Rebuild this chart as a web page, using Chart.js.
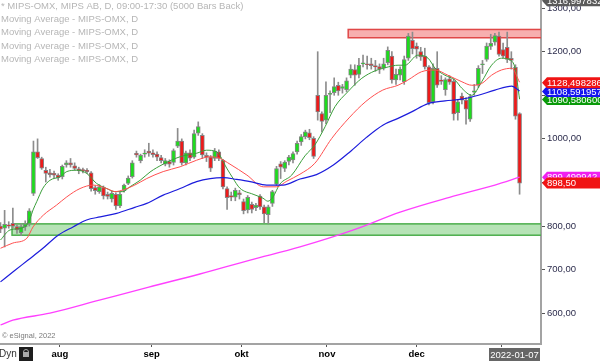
<!DOCTYPE html>
<html>
<head>
<meta charset="utf-8">
<script src="https://cdn.jsdelivr.net/npm/chart.js@4.4.1/dist/chart.umd.min.js"></script>
<style>
  html, body { margin: 0; padding: 0; background: #fff; }
  #wrap { width: 600px; height: 361px; position: relative; }
</style>
</head>
<body>
<div id="wrap"><canvas id="chart" width="600" height="361"></canvas></div>
<script>
// daily bars, index 0 = mid July 2021, last = 2022-01-07
const opens = [800,795,803,806,799,785,798,805,875,970,955,928,922,921,917,913,940,945,938,931,928,928,922,888,879,888,873,862,873,846,882,898,913,
  967,950,965,972,968,965,957,942,948,946,983,995,945,968,958,1013,1008,962,958,955,970,951,886,870,866,876,856,837,850,842,869,844,826,852,896,
  943,932,948,952,970,993,1005,1014,1001,1100,1058,1043,1102,1106,1123,1116,1113,1146,1159,1148,1172,1172,1172,1168,1166,1162,1175,1190,1135,
  1146,1131,1185,1226,1213,1200,1190,1165,1085,1162,1135,1113,1138,1132,1060,1098,1089,1045,1107,1123,1170,1182,1212,1222,1236,1205,1210,1185,1164,1058];
const highs = [808,836,810,841,803,805,812,840,995,1000,958,935,930,926,920,940,950,955,945,935,933,932,925,892,895,892,878,880,876,878,896,915,950,
  972,965,975,990,975,970,962,955,952,977,1024,1000,972,975,1020,1039,1012,968,962,978,975,953,890,878,887,882,862,870,855,852,872,848,848,882,937,
  948,950,962,970,995,1010,1020,1022,1005,1200,1062,1131,1110,1140,1130,1125,1140,1170,1170,1185,1192,1190,1185,1180,1172,1185,1211,1200,1160,
  1165,1190,1242,1245,1220,1210,1208,1168,1172,1200,1145,1140,1145,1138,1090,1105,1095,1102,1125,1168,1180,1220,1240,1242,1245,1220,1245,1200,1170,1060];
const lows = [785,752,795,795,783,778,790,800,870,955,930,901,912,910,905,908,935,935,928,920,922,920,880,873,875,862,862,855,838,842,878,895,910,
  958,945,958,960,958,950,945,938,935,940,980,940,940,950,955,1008,955,948,925,950,950,885,838,858,858,862,828,830,830,835,838,807,805,845,893,
  909,925,940,945,965,985,1000,998,955,1043,1016,1035,1060,1100,1100,1105,1108,1140,1123,1140,1165,1160,1160,1155,1150,1158,1170,1128,1125,
  1135,1125,1180,1195,1185,1180,1160,1078,1080,1118,1125,1100,1125,1043,1043,1080,1034,1040,1100,1118,1150,1178,1205,1215,1190,1185,1175,1160,1045,873];
const closes = [793,804,800,800,791,799,805,835,970,957,933,921,918,917,911,937,945,940,932,927,927,925,886,881,890,869,868,875,846,873,894,910,945,
  963,962,967,967,964,958,950,950,942,973,995,945,968,956,1012,1028,963,958,933,972,955,890,865,866,882,872,835,866,838,848,844,828,844,879,932,
  935,947,958,966,990,1005,1016,1003,960,1062,1040,1100,1104,1120,1110,1120,1133,1160,1146,1169,1174,1170,1168,1165,1160,1172,1203,1135,1148,
  1160,1182,1236,1207,1206,1188,1165,1083,1162,1123,1132,1136,1130,1057,1085,1089,1068,1097,1110,1162,1172,1213,1219,1237,1194,1190,1182,1180,1052,898.5];

// moving averages: [bar index, value]
const maGreen = [[0,768],[2.3,791],[5.9,798],[7.2,818],[7.9,837],[8.8,856],[10.3,887],[12,905],[14.4,913],[16.1,925],[18.5,928],[20.9,921],
  [23.3,898],[25.8,886],[27.8,879],[29.7,879],[31.4,890],[33.9,905],[36.3,924],[39.5,942],[43.6,959],[47.6,967],[50,974],[52.5,970],
  [54.9,933],[56.4,910],[58.1,887],[61.3,873],[63.7,864],[64.9,857],[66.1,866],[67.8,896],[70.7,917],[73.9,961],[76.3,986],[78.8,1028],
  [81.2,1074],[84.3,1108],[87.7,1139],[90.9,1156],[94.1,1165],[96.5,1169],[98.2,1169],[101.3,1192],[103.8,1185],[105.5,1162],[107.9,1146],
  [110.3,1135],[112,1116],[114.4,1100],[116.8,1131],[119.2,1169],[121.6,1185],[123.7,1181],[124.9,1162],[126,1091]];
const maRed = [[0,749],[3,761],[6.4,772],[7.9,798],[10.4,825],[13.6,848],[16.1,867],[19.3,886],[22.5,894],[25.8,886],[27.8,879],[29.8,883],
  [32.6,894],[35.5,909],[39.5,925],[43.6,936],[47.6,951],[50.9,959],[53.3,955],[55.7,942],[59.8,917],[63.8,890],[67,890],[69.5,903],
  [72.7,919],[76.3,944],[80.4,1001],[84.6,1048],[88.7,1086],[92.8,1112],[96.5,1123],[98.9,1135],[102.2,1154],[105.5,1158],[108.6,1146],
  [112,1131],[114.4,1123],[116.8,1127],[119.2,1146],[121.6,1158],[124.1,1162],[126,1130]];
const maBlue = [[0,672],[3.3,697],[6.7,722],[10.3,749],[14,779],[17.6,798],[20.9,814],[24.2,821],[28.2,829],[32.6,843],[35.5,852],
  [39.5,871],[43.6,886],[47.6,902],[50.9,909],[54.1,911],[57.3,907],[60.6,902],[64.6,894],[68.6,894],[72.7,908],[76.7,918],[80.8,940],
  [84.8,970],[88.9,1004],[92.9,1032],[96.5,1047],[99.8,1062],[103.8,1081],[107.9,1087],[112,1091],[116,1100],[120,1112],[124.1,1121],[126,1110]];
const maMagenta = [[0,573],[3,584],[12,600],[24,630],[36,660],[48.4,690],[60.6,722],[72.7,752],[85.7,791],[97,832],[109,866],[120,894],[126,912]];

// horizontal zones: from bar index, low, high
const zoneGreen = {from: 2.8, lo: 779, hi: 805};
const zoneRed = {from: 84.4, lo: 1232, hi: 1251};

const tickPos = [14.44, 36.7, 58.54, 79.25, 101.0, 121.5];
const tickLabels = ['aug', 'sep', 'okt', 'nov', 'dec', ''];
const lastDate = '2022-01-07';

const legendLines = ['* MIPS-OMX, MIPS AB, D, 09:00-17:30 (5000 Bars Back)',
  'Moving Average - MIPS-OMX, D', 'Moving Average - MIPS-OMX, D',
  'Moving Average - MIPS-OMX, D', 'Moving Average - MIPS-OMX, D'];

// right side value tags (drawn in order)
const tags = [
  {v: 1316.997832, text: '1316,997832', bg: '#5a5a5a'},
  {v: 1090.58, text: '1090,580600', bg: '#0a9a0a'},
  {v: 1108.591957, text: '1108,591957', bg: '#1414f0'},
  {v: 1128.498286, text: '1128,498286', bg: '#f01414'},
  {v: 912, text: '899,499942', bg: '#f020f0'},
  {v: 898.5, text: '898,50', bg: '#f01414'}
];

const FONT = "'Liberation Sans', Arial, sans-serif";

const bodies = closes.map((c, i) => ({x: i, y: [opens[i], c]}));
const wicks = highs.map((h, i) => ({x: i, y: [lows[i], h]}));
const bodyColors = closes.map((c, i) => c >= opens[i] ? '#1edc1e' : '#ee1a1a');
const pts = arr => arr.map(([x, y]) => ({x, y}));

const overlay = {
  id: 'overlay',
  beforeDatasetsDraw(chart) {
    const {ctx, chartArea: a, scales: {x, y}} = chart;
    ctx.save();
    ctx.beginPath();
    ctx.rect(a.left, a.top, a.right - a.left, a.bottom - a.top);
    ctx.clip();
    [[zoneGreen, 'rgba(110,200,110,0.5)', '#4cae4c'], [zoneRed, 'rgba(240,110,110,0.55)', '#e04848']].forEach(([z, fill, line]) => {
      const x0 = x.getPixelForValue(z.from);
      const t = y.getPixelForValue(z.hi), b = y.getPixelForValue(z.lo);
      ctx.fillStyle = fill;
      ctx.fillRect(x0, t, a.right - x0, b - t);
      ctx.strokeStyle = line;
      ctx.lineWidth = 1.5;
      ctx.strokeRect(x0, t, a.right - x0 + 5, b - t);
    });
    ctx.restore();
  },
  afterDraw(chart) {
    const {ctx, chartArea: a, scales: {x, y}} = chart;
    ctx.save();
    // legend text top left
    ctx.font = '9.5px ' + FONT;
    ctx.fillStyle = '#b6b6b6';
    ctx.textBaseline = 'middle';
    ctx.textAlign = 'left';
    legendLines.forEach((t, i) => ctx.fillText(t, 1, 6 + i * 13.3));

    // value tags on the right
    tags.forEach(t => {
      const yp = y.getPixelForValue(t.v);
      ctx.fillStyle = t.bg;
      ctx.beginPath();
      ctx.moveTo(a.right + 1, yp);
      ctx.lineTo(a.right + 6, yp - 5.5);
      ctx.lineTo(600, yp - 5.5);
      ctx.lineTo(600, yp + 5.5);
      ctx.lineTo(a.right + 6, yp + 5.5);
      ctx.closePath();
      ctx.fill();
      ctx.fillStyle = '#fff';
      ctx.font = '9.5px ' + FONT;
      ctx.fillText(t.text, a.right + 6, yp + 0.5);
    });

    // last date box under the x axis
    ctx.fillStyle = '#666';
    ctx.fillRect(489, 348, 51, 13);
    ctx.fillStyle = '#fff';
    ctx.textAlign = 'center';
    ctx.fillText(lastDate, 514.5, 355);

    // copyright note
    ctx.textAlign = 'left';
    ctx.font = '7.5px ' + FONT;
    ctx.fillStyle = '#7a7a7a';
    ctx.fillText('\u00a9 eSignal, 2022', 2, 336);

    // "Dyn" with lock icon
    ctx.font = '10px ' + FONT;
    ctx.fillStyle = '#333';
    ctx.fillText('Dyn', -1, 354);
    ctx.fillStyle = '#1e1e1e';
    ctx.fillRect(19, 347, 14, 14);
    ctx.strokeStyle = '#aaa';
    ctx.lineWidth = 1;
    ctx.beginPath();
    ctx.arc(26, 352, 2.5, Math.PI, 0);
    ctx.stroke();
    ctx.fillStyle = '#aaa';
    ctx.fillRect(23, 352, 6, 5);
    ctx.restore();
  }
};

new Chart(document.getElementById('chart'), {
  data: {
    datasets: [
      {type: 'line', data: pts(maMagenta), borderColor: '#ff40ff', borderWidth: 1.3, pointRadius: 0, cubicInterpolationMode: 'monotone', order: 0},
      {type: 'line', data: pts(maBlue), borderColor: '#1c1cdc', borderWidth: 1.2, pointRadius: 0, cubicInterpolationMode: 'monotone', order: 0},
      {type: 'line', data: pts(maRed), borderColor: '#ff5050', borderWidth: 1, pointRadius: 0, cubicInterpolationMode: 'monotone', order: 0},
      {type: 'line', data: pts(maGreen), borderColor: '#3a9e3a', borderWidth: 1, pointRadius: 0, cubicInterpolationMode: 'monotone', order: 0},
      {type: 'bar', data: bodies, backgroundColor: bodyColors, borderColor: '#858585', borderWidth: 1,
        borderSkipped: false, barThickness: 4, minBarLength: 1, grouped: false, order: 1},
      {type: 'bar', data: wicks, backgroundColor: '#8c8c8c', barThickness: 1, grouped: false, order: 2}
    ]
  },
  options: {
    responsive: false,
    animation: false,
    events: [],
    layout: {padding: 0},
    plugins: {legend: {display: false}, tooltip: {enabled: false}},
    scales: {
      x: {
        type: 'linear',
        position: 'bottom',
        offset: false,
        min: -0.12,
        max: 131.2,
        afterBuildTicks: s => { s.ticks = tickPos.map(v => ({value: v})); },
        afterFit: s => { s.height = 17; s.paddingLeft = 0; s.paddingRight = 0; },
        ticks: {
          autoSkip: false,
          maxRotation: 0,
          padding: 2,
          color: '#000',
          font: {family: FONT, size: 9.5, weight: 'bold'},
          callback: (v, i) => tickLabels[i]
        },
        grid: {offset: false, drawOnChartArea: false, drawTicks: true, tickLength: 3, color: '#555'},
        border: {color: '#a3a3a3', width: 2}
      },
      y: {
        type: 'linear',
        position: 'right',
        min: 529.4,
        max: 1318.6,
        afterFit: s => { s.width = 59; s.paddingTop = 0; s.paddingBottom = 0; },
        ticks: {
          stepSize: 100,
          includeBounds: false,
          padding: 2,
          color: '#2c2c4c',
          font: {family: FONT, size: 9.5},
          callback: v => v.toFixed(2).replace('.', ',')
        },
        grid: {drawOnChartArea: false, drawTicks: true, tickLength: 4, color: '#555'},
        border: {color: '#a3a3a3', width: 2}
      }
    }
  },
  plugins: [overlay]
});
</script>
</body>
</html>
